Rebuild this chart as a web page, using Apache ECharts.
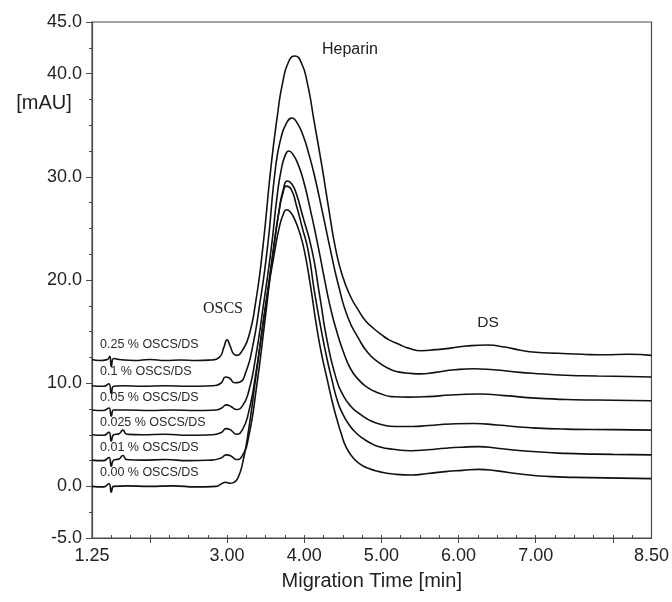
<!DOCTYPE html>
<html>
<head>
<meta charset="utf-8">
<script src="https://cdn.jsdelivr.net/npm/echarts@6/dist/echarts.min.js"></script>
<style>
html,body{margin:0;padding:0;background:#fff;}
#chart{width:672px;height:602px;}
</style>
</head>
<body>
<div id="chart"></div>
<script>
// ---- data (migration time [min], absorbance [mAU]) ----
const seriesNames = ["0.25 % OSCS/DS","0.1 % OSCS/DS","0.05 % OSCS/DS","0.025 % OSCS/DS","0.01 % OSCS/DS","0.00 % OSCS/DS"];

const trace025 = [[1.25,12.3],[1.35,12.2],[1.45,12.3],[1.48,12.6],[1.5,11.6],[1.53,12.4],[1.6,12.3],[1.8,12.2],[2.0,12.3],[2.2,12.2],[2.4,12.25],[2.6,12.2],[2.8,12.25],[2.9,12.5],[2.96,13.5],[3.0,14.2],[3.04,13.6],[3.09,12.8],[3.13,12.7],[3.2,13.2],[3.28,14.5],[3.37,17.8],[3.46,22.9],[3.57,31],[3.65,35.8],[3.72,39.1],[3.8,41.2],[3.88,41.7],[3.96,41.1],[4.04,39.1],[4.13,35.3],[4.23,31],[4.32,26.8],[4.41,22.9],[4.5,20.3],[4.6,18.4],[4.7,17.1],[4.8,16.0],[4.9,15.3],[5.0,14.7],[5.1,14.2],[5.22,13.8],[5.35,13.4],[5.52,13.15],[5.7,13.25],[5.9,13.4],[6.1,13.6],[6.38,13.7],[6.6,13.5],[6.8,13.2],[7.0,13.0],[7.29,12.9],[7.6,12.8],[7.9,12.75],[8.2,12.8],[8.5,12.7]];

const trace010 = [[1.25,9.75],[1.4,9.7],[1.47,9.95],[1.5,9.0],[1.53,9.7],[1.65,9.75],[1.9,9.7],[2.2,9.75],[2.5,9.7],[2.8,9.75],[2.92,10.0],[2.98,10.6],[3.03,10.5],[3.1,10.05],[3.16,10.1],[3.24,11.0],[3.33,13.5],[3.42,17.5],[3.52,22.9],[3.63,31],[3.7,33.8],[3.77,35.2],[3.84,35.7],[3.91,35.2],[3.99,33.9],[4.06,32.2],[4.13,30.2],[4.23,26.8],[4.34,22.9],[4.45,19.3],[4.57,16.3],[4.7,14.4],[4.82,13.0],[4.95,12.1],[5.1,11.4],[5.22,11.1],[5.38,10.95],[5.5,10.9],[5.7,11.05],[5.95,11.3],[6.2,11.4],[6.45,11.3],[6.8,11.05],[7.3,10.8],[7.8,10.7],[8.2,10.65],[8.5,10.6]];

const trace005 = [[1.25,7.4],[1.4,7.35],[1.47,7.6],[1.5,6.8],[1.53,7.4],[1.7,7.4],[2.0,7.35],[2.3,7.4],[2.6,7.35],[2.85,7.4],[2.93,7.6],[2.99,7.9],[3.05,7.75],[3.12,7.45],[3.2,7.8],[3.28,9.2],[3.37,12.5],[3.47,17.5],[3.57,22.9],[3.65,28.2],[3.7,30.6],[3.75,32.0],[3.8,32.5],[3.86,32.1],[3.92,31.2],[3.98,29.9],[4.08,26.8],[4.19,22.9],[4.27,19.8],[4.35,17],[4.43,14.8],[4.5,13.2],[4.6,11.4],[4.71,10.3],[4.8,9.7],[4.9,9.25],[5.0,8.95],[5.13,8.7],[5.35,8.65],[5.6,8.7],[5.9,8.85],[6.28,8.95],[6.6,8.8],[7.0,8.55],[7.5,8.4],[8.0,8.35],[8.5,8.3]];

const trace0025 = [[1.25,5.0],[1.4,4.95],[1.47,5.25],[1.5,4.4],[1.53,5.0],[1.6,5.1],[1.65,5.45],[1.7,5.05],[1.9,5.0],[2.2,5.05],[2.5,4.95],[2.8,5.0],[2.92,5.2],[2.99,5.6],[3.05,5.45],[3.12,5.05],[3.2,5.5],[3.28,7.2],[3.37,10.8],[3.48,16.5],[3.6,22.9],[3.68,27],[3.73,28.8],[3.78,29.6],[3.84,29.3],[3.9,28.3],[3.98,26.2],[4.1,22.9],[4.2,18.5],[4.3,14],[4.42,10.3],[4.5,8.9],[4.6,7.8],[4.71,7.08],[4.85,6.4],[5.0,6.0],[5.18,5.8],[5.4,5.8],[5.61,5.9],[5.9,6.05],[6.2,6.1],[6.5,5.95],[6.9,5.7],[7.4,5.55],[8.0,5.5],[8.5,5.45]];

const trace001 = [[1.25,2.55],[1.4,2.5],[1.47,2.8],[1.5,1.95],[1.53,2.55],[1.6,2.65],[1.65,3.0],[1.7,2.6],[1.9,2.55],[2.2,2.6],[2.5,2.5],[2.8,2.55],[2.92,2.75],[2.99,3.05],[3.05,2.95],[3.12,2.6],[3.2,3.0],[3.28,4.8],[3.38,9.5],[3.49,16],[3.6,22.9],[3.67,26.5],[3.72,28.3],[3.77,29.1],[3.83,28.8],[3.9,27.2],[3.97,25.2],[4.05,22.9],[4.13,19],[4.2,16],[4.28,12.9],[4.36,10.3],[4.43,8.3],[4.5,7.0],[4.58,6.0],[4.67,5.2],[4.77,4.6],[4.87,4.15],[4.97,3.85],[5.15,3.6],[5.39,3.46],[5.6,3.55],[5.83,3.7],[6.05,3.8],[6.26,3.85],[6.5,3.7],[6.9,3.4],[7.4,3.2],[8.0,3.1],[8.5,3.05]];

const trace000 = [[1.25,0.0],[1.4,-0.05],[1.47,0.25],[1.5,-0.55],[1.53,0.0],[1.7,0.05],[2.0,0.0],[2.3,0.05],[2.6,-0.05],[2.85,0.0],[2.93,0.25],[2.98,0.4],[3.04,0.3],[3.09,0.4],[3.14,0.8],[3.2,2.2],[3.28,5.5],[3.38,11],[3.5,17.5],[3.62,22.9],[3.68,25.2],[3.73,26.4],[3.77,26.8],[3.82,26.6],[3.88,25.8],[3.94,24.6],[4.0,22.9],[4.08,19.5],[4.15,16],[4.22,13],[4.3,10.3],[4.36,8.3],[4.42,6.6],[4.48,5.1],[4.54,3.85],[4.62,2.9],[4.71,2.24],[4.83,1.75],[4.97,1.43],[5.15,1.2],[5.39,1.1],[5.6,1.25],[5.83,1.43],[6.05,1.55],[6.26,1.65],[6.5,1.5],[6.8,1.2],[7.2,0.95],[7.7,0.85],[8.1,0.8],[8.5,0.75]];

const traces = [trace025, trace010, trace005, trace0025, trace001, trace000];

// ---- axis ticks / labels ----
const xMin = 1.25, xMax = 8.5;
const xLabelValues = [1.25, 3, 4, 5, 6, 7, 8.5];
const xMajorTicks = [2, 3, 4, 5, 6, 7, 8];
const xMinorTicks = [1.25,1.5,1.75,2,2.25,2.5,2.75,3,3.25,3.5,3.75,4,4.25,4.5,4.75,5,5.25,5.5,5.75,6,6.25,6.5,6.75,7,7.25,7.5,7.75,8,8.25,8.5];
const yMin = -5, yMax = 45;
const yLabelValues = [-5, 0, 10, 20, 30, 40, 45];
const yMinorTicks = [-5,-2.5,0,2.5,5,7.5,10,12.5,15,17.5,20,22.5,25,27.5,30,32.5,35,37.5,40,42.5,45];

const xTitle = "Migration Time [min]";
const yUnit = "[mAU]";
const peakLabels = ["Heparin", "OSCS", "DS"];

const FONT = '"Liberation Sans", Arial, sans-serif';
const axisColor = '#4a4a4a';
const textColor = '#222';

const chart = echarts.init(document.getElementById('chart'), null, {renderer: 'canvas'});

const labelRows = [345, 372, 398, 423, 448, 473];
const graphics = seriesNames.map((n, i) => ({
  type: 'text', x: 100, y: labelRows[i],
  style: {text: n, fill: '#2a2a2a', font: '12.5px ' + FONT, textAlign: 'left', textVerticalAlign: 'middle'}
}));
graphics.push({type:'text', x:350, y:50, style:{text: peakLabels[0], fill:textColor, font:'16px '+FONT, textAlign:'center', textVerticalAlign:'middle'}});
graphics.push({type:'text', x:223, y:309, style:{text: peakLabels[1], fill:textColor, font:'16px "Liberation Serif", "Times New Roman", serif', textAlign:'center', textVerticalAlign:'middle'}});
graphics.push({type:'text', x:488, y:323, style:{text: peakLabels[2], fill:textColor, font:'15.5px '+FONT, textAlign:'center', textVerticalAlign:'middle'}});
graphics.push({type:'text', x:44, y:103, style:{text: yUnit, fill:textColor, font:'20px '+FONT, textAlign:'center', textVerticalAlign:'middle'}});

const option = {
  animation: false,
  backgroundColor: '#fff',
  grid: {left: 92, right: 19, top: 22, bottom: 64, show: true, borderColor: axisColor, borderWidth: 1.2, backgroundColor: 'transparent'},
  xAxis: [
    {
      type: 'value', min: xMin, max: xMax, position: 'bottom',
      name: xTitle, nameLocation: 'middle', nameGap: 33,
      nameTextStyle: {fontFamily: FONT, fontSize: 20, color: textColor},
      axisLine: {show: true, onZero: false, lineStyle: {color: axisColor, width: 1.2}},
      axisTick: {show: true, inside: true, length: 3, customValues: xMinorTicks, lineStyle: {color: axisColor, width: 1}},
      axisLabel: {show: true, customValues: xLabelValues, formatter: v => Number(v).toFixed(2), margin: 9, fontFamily: FONT, fontSize: 18, color: textColor},
      splitLine: {show: false}
    },
    {
      type: 'value', min: xMin, max: xMax, position: 'bottom',
      axisLine: {show: false, onZero: false},
      axisTick: {show: true, inside: false, length: 5, customValues: xMajorTicks, lineStyle: {color: axisColor, width: 1}},
      axisLabel: {show: false},
      splitLine: {show: false}
    }
  ],
  yAxis: [
    {
      type: 'value', min: yMin, max: yMax, position: 'left',
      axisLine: {show: true, onZero: false, lineStyle: {color: axisColor, width: 1.2}},
      axisTick: {show: true, inside: false, length: 3, customValues: yMinorTicks, lineStyle: {color: axisColor, width: 1}},
      axisLabel: {show: true, customValues: yLabelValues, formatter: v => Number(v).toFixed(1), margin: 10, fontFamily: FONT, fontSize: 18, color: textColor},
      splitLine: {show: false}
    },
    {
      type: 'value', min: yMin, max: yMax, position: 'left',
      axisLine: {show: false, onZero: false},
      axisTick: {show: true, inside: false, length: 6, customValues: yLabelValues, lineStyle: {color: axisColor, width: 1}},
      axisLabel: {show: false},
      splitLine: {show: false}
    }
  ],
  series: traces.map((d, i) => ({
    name: seriesNames[i], type: 'line', data: d, xAxisIndex: 0, yAxisIndex: 0,
    showSymbol: false, smooth: 0.55,
    lineStyle: {color: '#111', width: 1.6}, silent: true, z: 3
  })),
  graphic: graphics
};
chart.setOption(option);
</script>
</body>
</html>
